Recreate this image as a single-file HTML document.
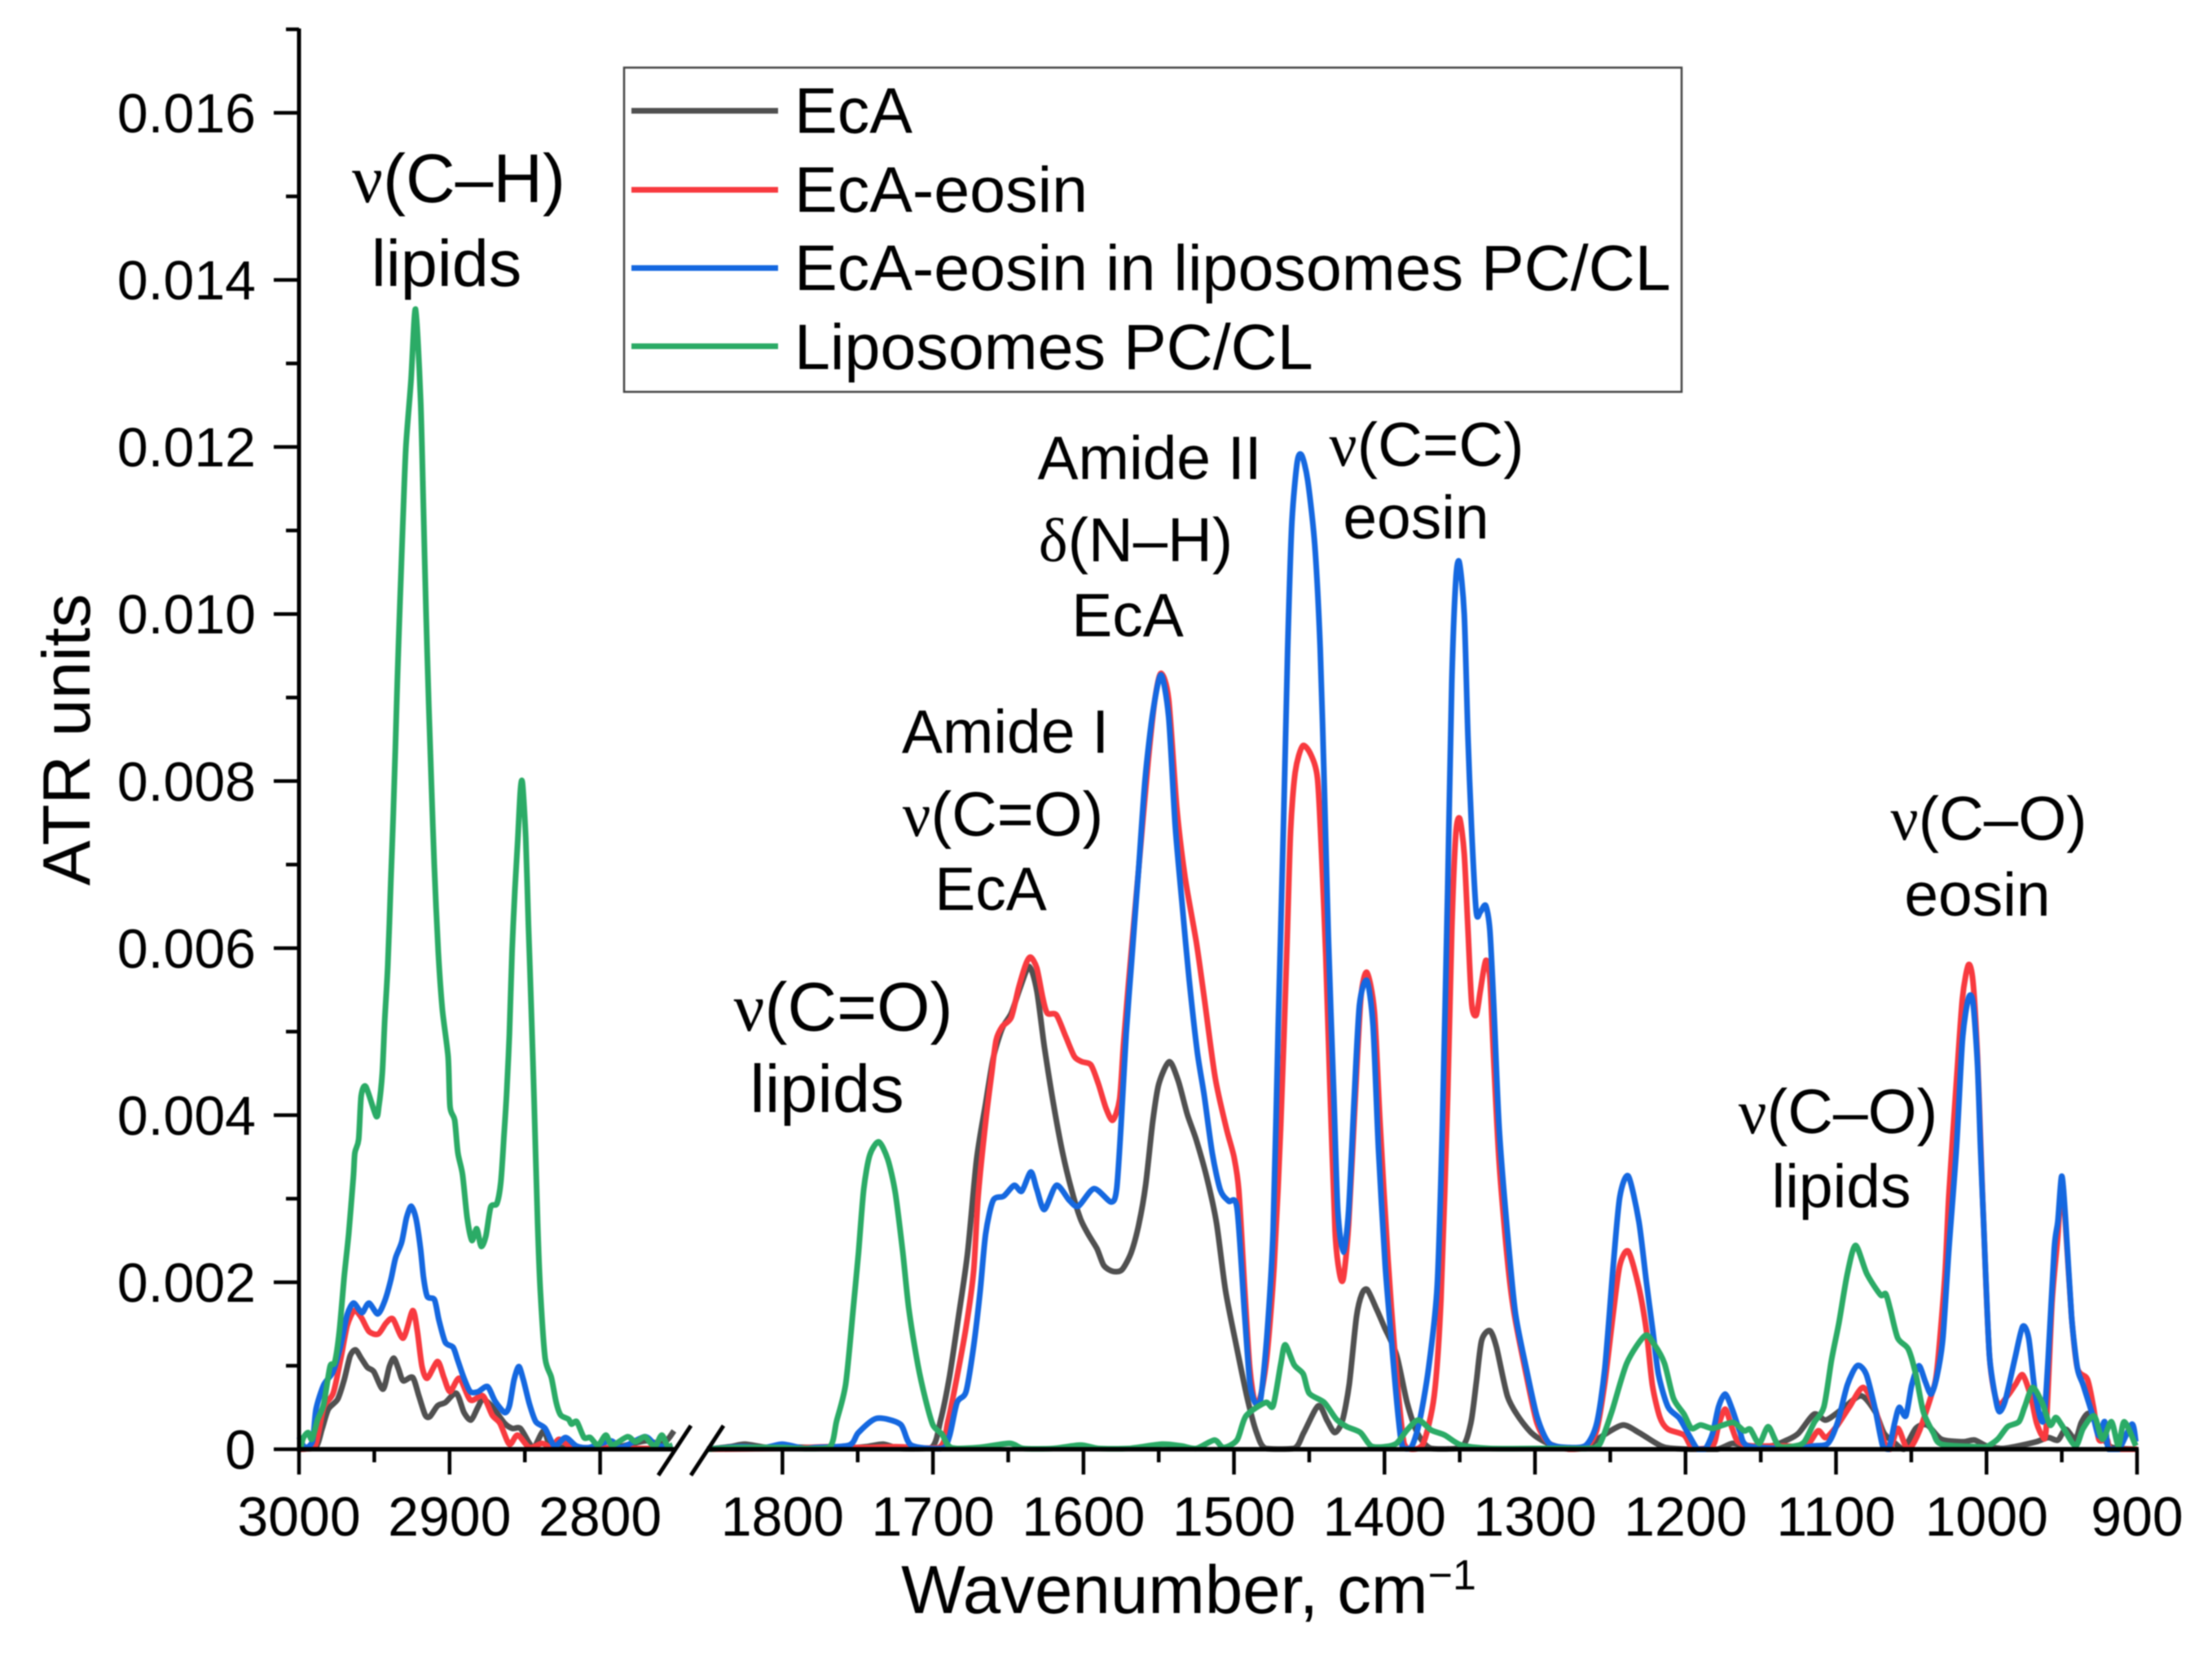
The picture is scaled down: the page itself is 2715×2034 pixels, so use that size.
<!DOCTYPE html>
<html>
<head>
<meta charset="utf-8">
<title>ATR spectra</title>
<style>
html,body{margin:0;padding:0;background:#fff;}
#chart{display:block;width:2715px;height:2034px;background:#fff;filter:blur(0.7px);}
text{font-family:"Liberation Sans",sans-serif;fill:#000;}
.greek{font-family:"Liberation Serif",serif;}
</style>
</head>
<body>
<svg id="chart" width="2715" height="2034" viewBox="0 0 2715 2034" xmlns="http://www.w3.org/2000/svg">
  <g id="series-layer"></g>
  <g id="axes-layer"></g>

  <g>
    <rect x="766" y="83" width="1298" height="398" fill="none" stroke="#444" stroke-width="2.5"/>
    <line x1="775" x2="955" y1="136" y2="136" stroke="#505050" stroke-width="7"/>
    <text x="975" y="163" font-size="79">EcA</text>
    <line x1="775" x2="955" y1="233" y2="233" stroke="#f83a3f" stroke-width="7"/>
    <text x="975" y="260" font-size="79">EcA-eosin</text>
    <line x1="775" x2="955" y1="329" y2="329" stroke="#1568e0" stroke-width="7"/>
    <text x="975" y="356" font-size="79">EcA-eosin in liposomes PC/CL</text>
    <line x1="775" x2="955" y1="425" y2="425" stroke="#2bab66" stroke-width="7"/>
    <text x="975" y="453" font-size="79">Liposomes PC/CL</text>
  </g>

  <g text-anchor="middle">
    <text x="563" y="248" font-size="84"><tspan class="greek">ν</tspan>(C–H)</text>
    <text x="548" y="351" font-size="81">lipids</text>
    <text x="1411" y="588" font-size="75">Amide II</text>
    <text x="1394" y="689" font-size="76"><tspan class="greek">δ</tspan>(N–H)</text>
    <text x="1384" y="781" font-size="75">EcA</text>
    <text x="1751" y="572" font-size="76"><tspan class="greek">ν</tspan>(C=C)</text>
    <text x="1738" y="661" font-size="75">eosin</text>
    <text x="1234" y="924" font-size="75">Amide I</text>
    <text x="1231" y="1026" font-size="77"><tspan class="greek">ν</tspan>(C=O)</text>
    <text x="1216" y="1117" font-size="75">EcA</text>
    <text x="1035" y="1265" font-size="84"><tspan class="greek">ν</tspan>(C=O)</text>
    <text x="1015" y="1365" font-size="83">lipids</text>
    <text x="2441" y="1031" font-size="76"><tspan class="greek">ν</tspan>(C–O)</text>
    <text x="2427" y="1124" font-size="75">eosin</text>
    <text x="2256" y="1391" font-size="77"><tspan class="greek">ν</tspan>(C–O)</text>
    <text x="2260" y="1482" font-size="75">lipids</text>
  </g>

  <text transform="translate(110,908) rotate(-90)" text-anchor="middle" font-size="83">ATR units</text>
  <text x="1459" y="1980" text-anchor="middle" font-size="83.5">Wavenumber, cm<tspan dy="-29" font-size="52">−1</tspan></text>
</svg>

<script>
// Category / tick data
const xMajorTicks = [3000, 2900, 2800, 1800, 1700, 1600, 1500, 1400, 1300, 1200, 1100, 1000, 900];
const xMinorTicks = [2950, 2850, 1750, 1650, 1550, 1450, 1350, 1250, 1150, 1050, 950];
const yMajorTicks = [0, 0.002, 0.004, 0.006, 0.008, 0.01, 0.012, 0.014, 0.016];
const yMinorTicks = [0.001, 0.003, 0.005, 0.007, 0.009, 0.011, 0.013, 0.015, 0.017];
const yTickLabels = ['0', '0.002', '0.004', '0.006', '0.008', '0.010', '0.012', '0.014', '0.016'];

// Series: wavenumber (cm-1) and ATR values (in units of 0.001)
const ecaWavenumber = [
3000,2989,2984.6,2980.5,2974.3,2970,2966,2962.4,2958.7,2954.6,
2950.4,2944.2,2940,2937,2933.9,2930.8,2924.5,2920.4,2916.2,2913.1,
2908,2902.8,2895.5,2890.4,2885.8,2881,2877.9,2871.7,2863.4,2858.3,
2853,2846.9,2843.8,2837.5,2832.4,2820,2805,2790,2770,2760,
2755,2751,
1850,1835,1825,1810,1800,1780,1760,1745,1733,1722,
1701,1695,1689,1683,1677,1671,1665,1660,1654,1648,
1642,1636,1631,1626,1620,1614,1608,1602,1597,1591,
1586.5,1580.5,1574.4,1568.4,1563.5,1558.7,1554,1550,1543,1537,
1531,1525,1518,1511.6,1505.6,1498.3,1491,1485,1479,1460,
1453.6,1444,1438,1433,1428,1423.4,1418.6,1415,1411.4,1405.3,
1400,1392,1385,1378,1369,1349,1342.7,1339,1335.5,1330,
1325.6,1318.4,1311,1302,1291.4,1277,1266,1254.4,1241.5,1231,
1219.4,1213,1197,1179,1169,1161,1143,1132.6,1125,1114.5,
1106.7,1096,1083.4,1074,1068,1060,1055,1047,1039.4,1030,
1016,1008,1000,989.7,979,966.8,959,952.6,947.4,941,
937,932,925.4,917.7,900];
const ecaValues = [
0,.02,.25,.48,.6,.83,1.12,1.19,1.09,.98,
.93,.72,.99,1.09,.96,.82,.86,.64,.41,.39,
.52,.56,.67,.44,.35,.51,.6,.51,.31,.25,
.25,.07,.02,.22,.02,.03,.01,.02,.1,.06,
.12,.22,
0,.03,.06,.02,.03,.02,.01,.03,.06,.01,
.02,.34,.87,1.59,2.35,3.47,4.14,4.68,5.04,5.22,
5.53,5.78,5.49,4.82,4.14,3.56,3.11,2.76,2.58,2.4,
2.2,2.13,2.15,2.35,2.67,3.16,3.92,4.37,4.64,4.41,
4.01,3.7,3.25,2.71,1.9,1.23,.6,.2,.01,.01,
.2,.52,.34,.2,.34,.78,1.59,1.86,1.91,1.68,
1.46,1.13,.56,.19,.01,.02,.31,.8,1.3,1.42,
1.22,.64,.39,.19,.07,0,.03,.17,.29,.2,
.07,.02,0,0,.07,.04,.04,.11,.19,.42,
.35,.48,.64,.45,.19,.06,0,.25,.29,.12,
.09,.11,.04,.01,.04,.09,.14,.11,.24,.12,
.32,.43,.25,.03,0];

const eosinWavenumber = [
3000,2989.7,2983.6,2977.3,2972.2,2968,2963.3,2958.7,2953.5,2947.4,
2942.2,2937.6,2930.8,2924.5,2921.4,2918.3,2914.8,2908,2903.8,2899.7,
2893.5,2886.2,2877.9,2871.7,2866.5,2860.3,2854.8,2846.9,2838.6,2832,
2827.2,2818,2800,2775,2755,
1850,1800,1770,1745,1725,1696,1690,1684,1678,1673,
1670,1665,1661,1658,1654,1648,1643,1638,1635,1631,
1627,1624,1618,1612,1606,1601,1595,1590,1585,1580.5,
1576,1573.4,1569.8,1563.4,1557,1552.5,1548.5,1543.4,1538,1532.5,
1525,1519.8,1512.5,1505,1500,1496.8,1493,1489.5,1486,1482.3,
1478,1473.3,1469,1465,1462.5,1459.3,1454.4,1449,1444.5,1441.8,
1439,1436.4,1432.8,1430,1427.4,1423.8,1419.3,1415.7,1411.7,1406.7,
1403,1397.7,1392.3,1387,1381.4,1374.2,1367,1362.5,1358,1355.3,
1352.6,1350,1347,1344.5,1342,1339,1336.4,1332.8,1330,1327.4,
1323.8,1318.4,1313.9,1305.8,1298.6,1290.5,1277,1266,1259,1253.6,
1248,1243.7,1238,1231,1226,1222,1217,1211.7,1201,1195,
1182,1178,1173.6,1169,1165,1156,1135,1120,1112,1106.7,
1099,1091,1082,1074,1068,1064,1059,1053.6,1050,1044.6,
1036.8,1033,1027.7,1025,1020,1016,1012,1009,1006,1004,
1002,998,992.7,986,981,976,970.7,966.8,962.9,960.4,
956.5,952.6,950,947.4,943.5,939.6,933,929,925.4,920,917,900];
const eosinValues = [
0,.02,.5,.67,1.09,1.48,1.66,1.58,1.41,1.38,
1.51,1.56,1.33,1.66,1.41,.99,.85,1.05,.86,.69,
.85,.59,.64,.41,.31,.06,.17,.02,.07,.02,
.12,.02,.02,.01,.01,
0,.01,.03,.02,.03,.02,.34,.87,1.46,2.13,
3.02,3.92,4.5,4.9,5.06,5.17,5.53,5.82,5.89,5.76,
5.4,5.22,5.2,4.95,4.7,4.64,4.6,4.37,4.08,3.94,
4.19,4.85,5.63,6.94,8.24,8.98,9.29,8.98,7.68,6.85,
6.07,5.41,4.45,3.84,3.5,3.1,1.95,.97,.56,.64,
1.13,2.2,3.84,5.9,7.37,8.11,8.42,8.32,8.03,7.13,
5.9,4.42,2.61,2.12,2.04,2.69,4.25,5.4,5.71,5.24,
3.92,2.28,.97,.07,0,.07,.64,1.79,4.25,6.22,
7.37,7.55,7.13,6.22,5.32,5.2,5.48,5.85,5.65,4.66,
3.43,2.28,1.63,.89,.31,.07,0,.03,.23,.8,
1.63,2.2,2.37,1.94,1.42,.77,.38,.24,.17,.01,
.04,.29,.48,.25,.09,.04,.04,.04,.22,.14,
.29,.51,.74,.48,.09,0,.25,.03,.03,.22,
.64,.94,2.07,3.05,4.4,5.4,5.8,5.6,4.7,3.7,
2.73,1.1,.55,.64,.77,.89,.64,.32,.16,.25,
1.75,2.56,3.25,2.66,1.59,.97,.84,.51,.12,.12,0,0];

const liposomalWavenumber = [
3000,2996,2991,2988.7,2983.6,2977.3,2972.2,2968,2963.9,2959.7,
2957.7,2953.5,2947.7,2943.2,2939,2935.9,2931.8,2928.6,2925.5,2922.4,
2919.4,2917.3,2914.8,2910,2907,2902.8,2897.6,2894.5,2890.4,2886.2,
2881,2874.8,2869.6,2863.4,2860.3,2857.2,2854,2851,2846.9,2842.7,
2836.5,2830.3,2823,2815.8,2807.5,2793,2786,2770.4,2763,2752,
1850,1828,1812,1800,1786,1778,1755.6,1749.5,1737.4,1721.7,
1714.5,1694,1689,1684,1678,1673,1668.6,1665,1660,1653,
1646,1641,1635,1631,1626,1618,1609.4,1603.4,1593,1581.6,
1578,1575,1571.6,1568,1563.4,1559,1554,1548.5,1543.4,1539,
1534.3,1529.8,1524.4,1519.8,1514.4,1509,1503.5,1498,1493,1489.5,
1486,1482.3,1478,1474,1470.6,1467,1464.3,1461.6,1458,1455,
1451,1446.3,1442.7,1440,1437.3,1433.7,1431,1427.4,1423.8,1420,
1416.6,1411.7,1407.6,1404,1399.5,1395,1390.4,1387.8,1382.3,1377,
1370.7,1365,1361.6,1358,1355.3,1352.6,1350.3,1347,1344.5,1342,
1339,1336.4,1332.8,1330,1327.4,1323.8,1318.4,1313,1305.8,1298.6,
1290.5,1277,1266,1259,1253.6,1248,1243.7,1238,1231,1226,
1222,1218,1211.7,1204,1197.4,1192,1187,1182,1178,1173.6,
1169,1164,1158.5,1130,1114.5,1105.4,1099,1092.5,1086,1080,
1074,1069,1065,1061,1058,1053.6,1049.7,1045,1040.7,1036.8,
1033,1029,1025,1020,1016,1012,1009,1006,1004,1002,
1000.5,998,994,991.5,987.6,981,976,972,968,964.3,
961.7,959,955,952.6,950,947.4,943.5,939.6,935.8,929,
925.4,921.5,919,912,903.4,900.8];
const liposomalValues = [
.15,.02,.1,.48,.77,.93,1.25,1.61,1.75,1.66,
1.64,1.75,1.62,1.77,2.03,2.29,2.48,2.77,2.91,2.77,
2.42,2.06,1.83,1.79,1.54,1.28,1.22,1.06,.85,.69,
.69,.75,.57,.44,.52,.83,.99,.83,.54,.33,
.25,.04,.14,.04,.02,.1,.02,.15,.05,.02,
0,.03,.02,.06,.01,.02,.05,.2,.37,.3,
.05,.01,.16,.56,.69,1.23,1.9,2.58,2.98,3.03,
3.16,3.09,3.32,3.11,2.87,3.16,2.98,2.91,3.12,2.96,
3.11,3.89,4.98,5.85,6.94,8.03,8.81,9.27,8.77,7.46,
6.5,5.63,4.76,4.24,3.54,3.1,2.97,2.89,1.63,.8,
.56,.6,1.38,2.61,5.07,7.54,9.59,11.07,11.82,11.9,
11.6,10.82,9.59,7.95,6.14,4.25,2.86,2.36,2.86,4.25,
5.32,5.61,5.07,3.6,2.2,1.22,.31,.02,.02,.31,
.97,1.95,3.84,6.72,9.18,10.41,10.62,10,8.52,7.37,
6.43,6.43,6.51,6.22,5.32,3.84,2.61,1.63,.97,.39,
.07,.02,.05,.31,.97,2.2,3.02,3.27,2.73,2,
1.46,.9,.51,.37,.16,0,0,.19,.51,.66,
.48,.22,.04,.01,.04,.07,.32,.77,1,.9,
.48,.04,0,.32,.5,.4,.77,1,.81,.66,
.87,1.33,2.4,3.6,4.9,5.4,5.35,4.6,3.6,2.73,
2.07,1.1,.61,.45,.58,1.1,1.47,1.33,.71,.38,
.38,1.1,2.4,2.73,3.27,2.73,1.59,.97,.77,.38,
.16,.33,0,0,.3,.09];

const liposomesWavenumber = [
3000,2999,2997,2993.9,2991.4,2987.7,2983.6,2979.4,2976.3,2973.2,
2970,2967,2963.9,2962.9,2960.4,2958.7,2955.6,2948.8,2947,2944.7,
2943,2941,2939,2937.4,2936,2934.7,2933,2931,2929,2925.6,
2922.6,2919.3,2917.5,2915.6,2913.8,2912,2910.2,2907.5,2904.8,2901,
2899.7,2896.6,2894.5,2891.4,2888.3,2885.2,2882,2879,2875.9,2872.7,
2868.6,2866,2863.9,2862,2860.3,2858.5,2856.6,2854.8,2853,2851.6,
2849.4,2847.6,2845.7,2843.9,2841.5,2839.7,2836.5,2832.4,2829.3,2826.2,
2821,2819,2815.5,2810.7,2806.6,2801.4,2796.2,2792,2781.8,2776.6,
2770.4,2766.3,2763.2,2759,2755,2752,
1850,1830,1800,1790,1769,1764,1758,1753,1749.5,1746,
1742,1736,1730,1725,1720,1716,1710,1705,1700,1694,
1688,1670,1649,1640,1620,1602,1590,1570,1548,1535,
1525,1513,1507,1498,1492,1479,1474,1469,1466,1460,
1454,1450,1440,1432,1425,1416,1409,1400,1392,1385,
1377.5,1369,1360,1349,1330,1300,1280,1265,1257,1249,
1239,1227,1221,1214,1208,1201,1196,1190,1182,1175,
1168,1161,1157,1151,1145,1138,1127,1121,1114.5,1108,
1103,1098,1092.5,1087,1079.5,1070.5,1067,1064,1059,1052,
1047,1042,1035.5,1030,1005.5,1000,992.6,986,978.5,974.6,
969.4,962.9,957.8,954,950,941,935.8,928.5,923,917,
912.4,908.5,900.8];
const liposomesValues = [
0,.02,.14,.2,.12,.35,.54,.99,1.04,1.41,
2.06,2.58,3.26,3.55,3.71,4.23,4.34,3.99,4.1,4.5,
5.15,5.8,6.8,7.6,8.4,9.2,10.1,11.1,12,12.8,
13.65,12.6,11.36,10,8.9,7.94,7,5.96,5.27,4.7,
4.1,3.94,3.55,3.29,2.77,2.5,2.64,2.43,2.55,2.9,
2.94,3.19,3.74,4.29,4.96,5.96,6.7,7.26,7.88,7.98,
7.32,6.27,5.27,4.2,2.7,1.9,1.09,.86,.57,.41,
.36,.3,.33,.14,.14,.05,.17,.05,.15,.09,
.15,.07,.04,.17,.03,.05,
0,.02,.02,.01,.02,.34,.78,1.68,2.35,3.11,
3.52,3.68,3.47,3.07,2.35,1.68,1.01,.6,.29,.18,
.02,.02,.07,.01,.01,.05,.01,.01,.06,.04,
.01,.11,.02,.11,.4,.56,.52,1.01,1.25,1.01,
.9,.67,.56,.36,.27,.2,.04,.03,.07,.23,
.35,.23,.17,.05,.01,.01,.01,.01,.06,.45,
1.03,1.36,1.26,1.03,.61,.42,.25,.29,.25,.29,
.32,.22,.24,.07,.27,.04,.04,.09,.32,.51,
1.07,1.52,2.1,2.44,2.1,1.85,1.86,1.68,1.33,1.2,
.9,.45,.2,.06,.03,.03,.12,.27,.33,.51,
.74,.55,.29,.38,.29,.04,.25,.4,.12,.33,
.04,.33,.04];

const SVG_NS = 'http://www.w3.org/2000/svg';
const UNIT = 0.001;
const X_LEFT = {from: 3000, to: 2750, px0: 367, px1: 829};
const X_RIGHT = {from: 1850, to: 900, px0: 868, px1: 2623};
const Y_ZERO = 1779, Y_TOP_VALUE = 0.017, Y_TOP_PX = 36;

function xScale(w) {
  const s = w > 2300 ? X_LEFT : X_RIGHT;
  return s.px0 + (s.from - w) / (s.from - s.to) * (s.px1 - s.px0);
}
function yScale(v) {
  return Y_ZERO - v / Y_TOP_VALUE * (Y_ZERO - Y_TOP_PX);
}
function smoothPath(pts) {
  let d = 'M' + pts[0][0].toFixed(1) + ' ' + pts[0][1].toFixed(1);
  const k = 0.13;
  for (let i = 0; i < pts.length - 1; i++) {
    const p0 = pts[Math.max(0, i - 1)], p1 = pts[i], p2 = pts[i + 1], p3 = pts[Math.min(pts.length - 1, i + 2)];
    const c1x = p1[0] + (p2[0] - p0[0]) * k, c1y = Math.min(Y_ZERO, p1[1] + (p2[1] - p0[1]) * k);
    const c2x = p2[0] - (p3[0] - p1[0]) * k, c2y = Math.min(Y_ZERO, p2[1] - (p3[1] - p1[1]) * k);
    d += 'C' + c1x.toFixed(1) + ' ' + c1y.toFixed(1) + ' ' + c2x.toFixed(1) + ' ' + c2y.toFixed(1) + ' ' + p2[0].toFixed(1) + ' ' + p2[1].toFixed(1);
  }
  return d;
}
function seriesPath(wn, vals) {
  const left = [], right = [];
  wn.forEach(function (w, i) {
    (w > 2300 ? left : right).push([xScale(w), yScale(vals[i] * UNIT)]);
  });
  return smoothPath(left) + smoothPath(right);
}

const seriesLayer = document.getElementById('series-layer');
function drawSeries(name, wn, vals, color) {
  const p = document.createElementNS(SVG_NS, 'path');
  p.setAttribute('d', seriesPath(wn, vals));
  p.setAttribute('fill', 'none');
  p.setAttribute('stroke', color);
  p.setAttribute('stroke-width', '7');
  p.setAttribute('stroke-linejoin', 'round');
  
  
  seriesLayer.appendChild(p);
}
drawSeries('series-eca', ecaWavenumber, ecaValues, '#505050');
drawSeries('series-eca-eosin', eosinWavenumber, eosinValues, '#f83a3f');
drawSeries('series-eca-eosin-liposomes', liposomalWavenumber, liposomalValues, '#1568e0');
drawSeries('series-liposomes', liposomesWavenumber, liposomesValues, '#2bab66');

const axesLayer = document.getElementById('axes-layer');
function line(name, x1, y1, x2, y2, w) {
  const l = document.createElementNS(SVG_NS, 'line');
  l.setAttribute('x1', x1);
  l.setAttribute('y1', y1);
  l.setAttribute('x2', x2);
  l.setAttribute('y2', y2);
  l.setAttribute('stroke', '#000');
  l.setAttribute('stroke-width', w);
  
  
  axesLayer.appendChild(l);
}
function label(name, x, y, anchor, str) {
  const t = document.createElementNS(SVG_NS, 'text');
  t.setAttribute('x', x);
  t.setAttribute('y', y);
  t.setAttribute('text-anchor', anchor);
  t.setAttribute('font-size', '68');
  
  
  t.textContent = str;
  axesLayer.appendChild(t);
}

line('y-axis-line', 367, 35, 367, 1782, 5);
line('x-axis-line-left', 365, Y_ZERO, X_LEFT.px1, Y_ZERO, 5.5);
line('x-axis-line-right', X_RIGHT.px0, Y_ZERO, X_RIGHT.px1 + 2, Y_ZERO, 5.5);
line('axis-break-slash-left', 808, 1811, 848, 1750, 5);
line('axis-break-slash-right', 848, 1811, 888, 1750, 5);

xMajorTicks.forEach(function (w) {
  line('x-major-tick', xScale(w), Y_ZERO, xScale(w), Y_ZERO + 31, 4.5);
  label('x-tick-label', xScale(w), 1885, 'middle', String(w));
});
xMinorTicks.forEach(function (w) {
  line('x-minor-tick', xScale(w), Y_ZERO, xScale(w), Y_ZERO + 16, 4.5);
});
yMajorTicks.forEach(function (v, i) {
  line('y-major-tick', 336, yScale(v), 367, yScale(v), 4.5);
  label('y-tick-label', 314, yScale(v) + 24, 'end', yTickLabels[i]);
});
yMinorTicks.forEach(function (v) {
  line('y-minor-tick', 351, yScale(v), 367, yScale(v), 4.5);
});
</script>
</body>
</html>
